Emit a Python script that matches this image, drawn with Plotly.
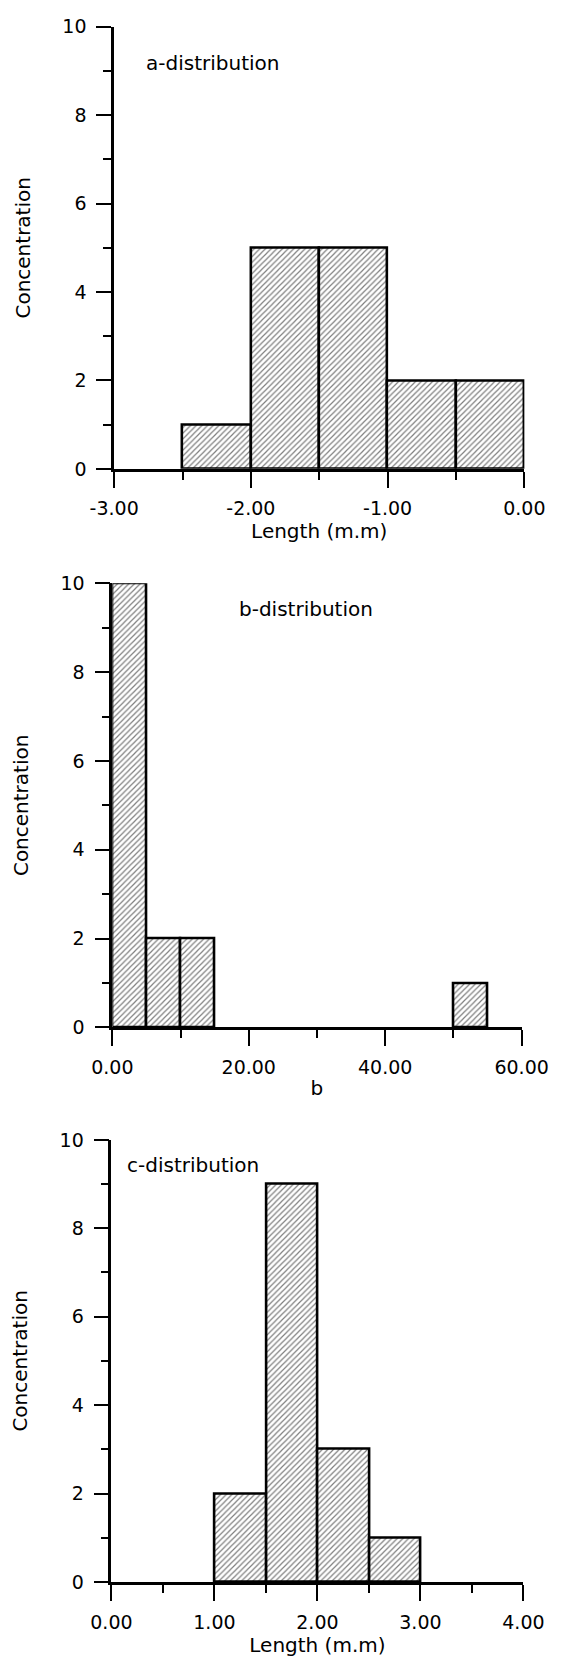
import plotly.graph_objects as go

# ---- data ----
a_edges = [-2.5, -2.0, -1.5, -1.0, -0.5, 0.0]
a_counts = [1, 5, 5, 2, 2]

b_bins_left = [0, 5, 10, 50]
b_counts = [10, 2, 2, 1]
b_width = 5

c_edges = [1.0, 1.5, 2.0, 2.5, 3.0]
c_counts = [2, 9, 3, 1]

a_xticks = [-3, -2, -1, 0]
a_xticklabels = ["-3.00", "-2.00", "-1.00", "0.00"]
b_xticks = [0, 20, 40, 60]
b_xticklabels = ["0.00", "20.00", "40.00", "60.00"]
c_xticks = [0, 1, 2, 3, 4]
c_xticklabels = ["0.00", "1.00", "2.00", "3.00", "4.00"]
y_ticks = [0, 2, 4, 6, 8, 10]
y_ticklabels = ["0", "2", "4", "6", "8", "10"]

W, H = 575, 1662
FONT = "DejaVu Sans"

fig = go.Figure()

pattern = dict(shape="/", fgcolor="black", bgcolor="white", size=4, solidity=0.3)
bar_line = dict(color="black", width=2.6)

# panel a
a_centers = [(a_edges[i] + a_edges[i + 1]) / 2 for i in range(len(a_counts))]
a_widths = [a_edges[i + 1] - a_edges[i] for i in range(len(a_counts))]
fig.add_trace(go.Bar(x=a_centers, y=a_counts, width=a_widths, xaxis="x", yaxis="y",
                     marker=dict(color="white", pattern=pattern, line=bar_line),
                     cliponaxis=False, showlegend=False))
# panel b
b_centers = [l + b_width / 2 for l in b_bins_left]
fig.add_trace(go.Bar(x=b_centers, y=b_counts, width=[b_width] * len(b_counts), xaxis="x2", yaxis="y2",
                     marker=dict(color="white", pattern=pattern, line=bar_line),
                     cliponaxis=False, showlegend=False))
# panel c
c_centers = [(c_edges[i] + c_edges[i + 1]) / 2 for i in range(len(c_counts))]
c_widths = [c_edges[i + 1] - c_edges[i] for i in range(len(c_counts))]
fig.add_trace(go.Bar(x=c_centers, y=c_counts, width=c_widths, xaxis="x3", yaxis="y3",
                     marker=dict(color="white", pattern=pattern, line=bar_line),
                     cliponaxis=False, showlegend=False))


def ydom(top_px, bot_px):
    return [(H - bot_px) / H, (H - top_px) / H]


tickfont = dict(family=FONT, size=19, color="black")
titlefont = dict(family=FONT, size=20, color="black")


def xaxis(dom_px, rng, vals, texts, minor_vals, title, anchor):
    return dict(domain=[dom_px[0] / W, dom_px[1] / W], range=rng, anchor=anchor,
                showgrid=False, zeroline=False,
                showline=True, linecolor="black", linewidth=2.6,
                ticks="outside", ticklen=16, tickwidth=2.2, tickcolor="black",
                tickvals=vals, ticktext=texts, tickfont=tickfont, ticklabelstandoff=5,
                minor=dict(tickvals=minor_vals, ticks="outside", ticklen=8, tickwidth=2, tickcolor="black"),
                title=dict(text=title, font=titlefont, standoff=5), fixedrange=True)


def yaxis(dom, anchor):
    return dict(domain=dom, range=[0, 10], anchor=anchor, showgrid=False, zeroline=False,
                showline=True, linecolor="black", linewidth=2.6,
                ticks="outside", ticklen=15, tickwidth=2.2, tickcolor="black",
                tickvals=y_ticks, ticktext=y_ticklabels, tickfont=tickfont, ticklabelstandoff=6,
                minor=dict(tickvals=[1, 3, 5, 7, 9], ticks="outside", ticklen=8, tickwidth=2, tickcolor="black"),
                title=dict(text="Concentration", font=titlefont, standoff=27), fixedrange=True)


fig.update_layout(
    width=W, height=H,
    margin=dict(l=0, r=0, t=0, b=0),
    paper_bgcolor="white", plot_bgcolor="white",
    bargap=0,
    font=dict(family=FONT, color="black"),
    xaxis=xaxis((98, 549), [-3, 0], a_xticks, a_xticklabels, [-2.5, -1.5, -0.5], "Length (m.m)", "y"),
    yaxis=yaxis(ydom(16, 464), "x"),
    xaxis2=xaxis((96, 546), [0, 60], b_xticks, b_xticklabels, [10, 30, 50], "b", "y2"),
    yaxis2=yaxis(ydom(580, 1030), "x2"),
    xaxis3=xaxis((95, 548), [0, 4], c_xticks, c_xticklabels, [0.5, 1.5, 2.5, 3.5], "Length (m.m)", "y3"),
    yaxis3=yaxis(ydom(1144, 1592), "x3"),
    annotations=[
        dict(text="a-distribution", x=-2.28, y=9.17, xref="x", yref="y", showarrow=False,
             font=titlefont, xanchor="center", yanchor="middle"),
        dict(text="b-distribution", x=28.4, y=9.42, xref="x2", yref="y2", showarrow=False,
             font=titlefont, xanchor="center", yanchor="middle"),
        dict(text="c-distribution", x=0.79, y=9.44, xref="x3", yref="y3", showarrow=False,
             font=titlefont, xanchor="center", yanchor="middle"),
    ],
)

fig.write_html("out.html")
